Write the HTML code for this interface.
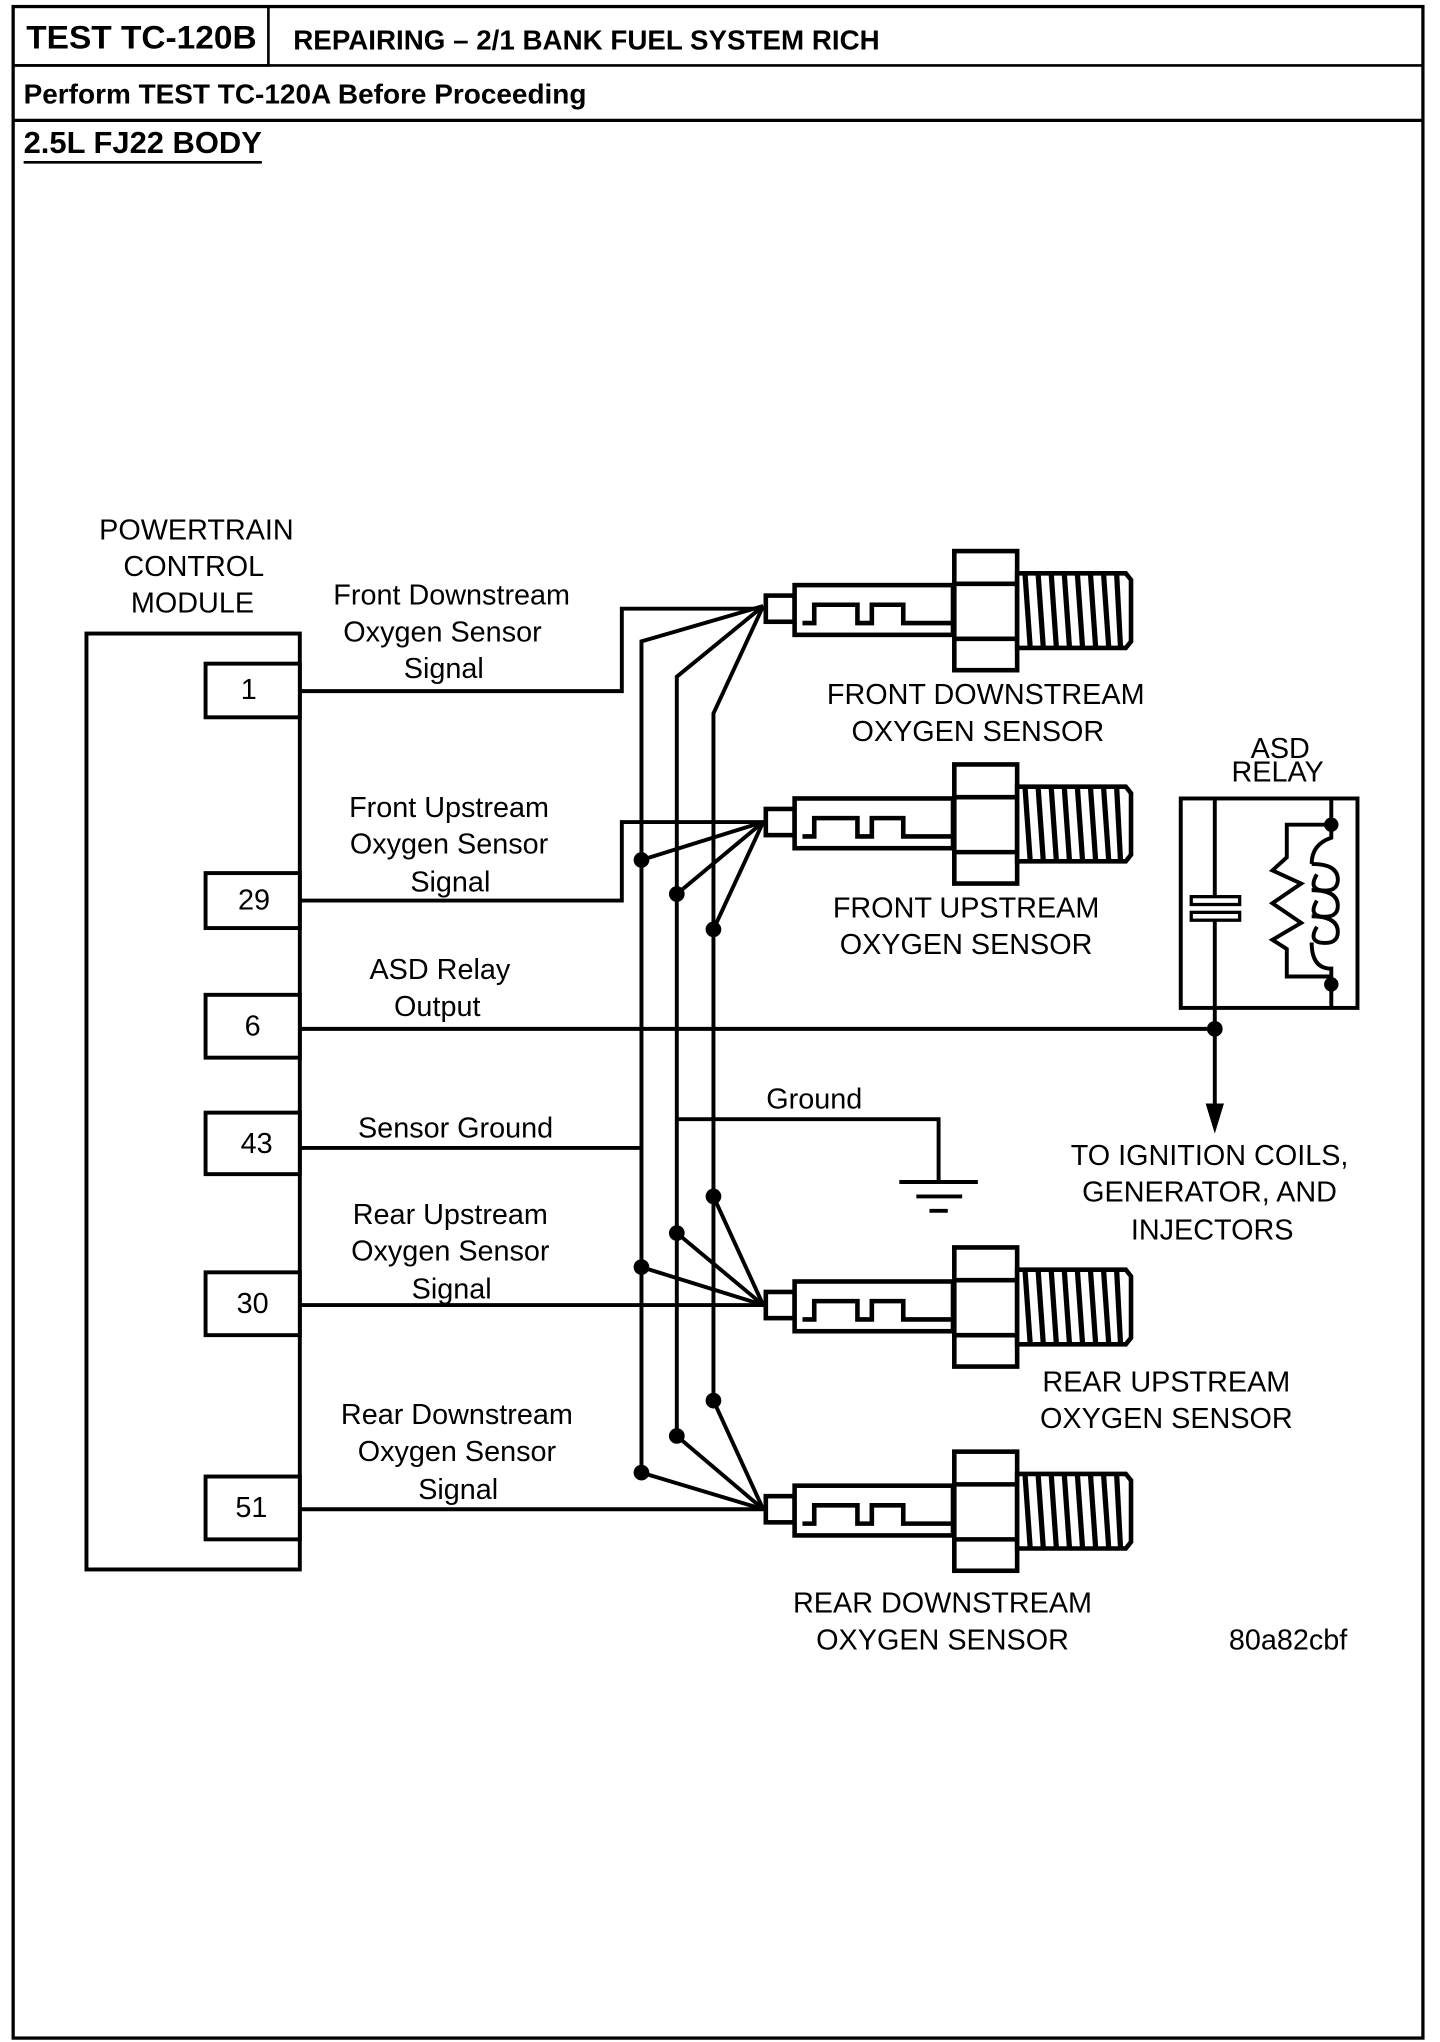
<!DOCTYPE html>
<html><head><meta charset="utf-8"><style>
html,body{margin:0;padding:0;background:#fff;}
svg{display:block;}
text{font-family:"Liberation Sans",Arial,sans-serif;fill:#000;}
.b{font-weight:bold;}
</style></head><body>
<svg width="1440" height="2042" viewBox="0 0 1100 1560" xmlns="http://www.w3.org/2000/svg">
<defs>
<g id="sensor">
  <rect x="585" y="-10" width="22" height="20" fill="#fff" stroke="#000" stroke-width="3.5"/>
  <rect x="607" y="-18" width="121" height="38" fill="#fff" stroke="#000" stroke-width="3.5"/>
  <polyline points="613,11 622,11 622,-3 655,-3 655,11 666,11 666,-3 690,-3 690,11 728,11" fill="none" stroke="#000" stroke-width="3.5"/>
  <rect x="729" y="-44" width="48" height="91" fill="#fff" stroke="#000" stroke-width="3.5"/>
  <line x1="729" y1="-19" x2="777" y2="-19" stroke="#000" stroke-width="3.5"/>
  <line x1="729" y1="23" x2="777" y2="23" stroke="#000" stroke-width="3.5"/>
  <path d="M777,-27 L860,-27 L864,-22 L864,25 L860,30 L777,30 Z" fill="#fff" stroke="#000" stroke-width="3.5"/>
  <g stroke="#000" stroke-width="4">
    <line x1="783" y1="-27" x2="787" y2="30"/><line x1="793" y1="-27" x2="797" y2="30"/>
    <line x1="803" y1="-27" x2="807" y2="30"/><line x1="813" y1="-27" x2="817" y2="30"/>
    <line x1="823" y1="-27" x2="827" y2="30"/><line x1="833" y1="-27" x2="837" y2="30"/>
    <line x1="843" y1="-27" x2="847" y2="30"/><line x1="853" y1="-27" x2="856" y2="30"/>
  </g>
</g>
</defs>
<!-- frame -->
<rect x="10" y="5" width="1077" height="1552" fill="none" stroke="#000" stroke-width="2.5"/>
<line x1="10" y1="50" x2="1087" y2="50" stroke="#000" stroke-width="2"/>
<line x1="10" y1="92" x2="1087" y2="92" stroke="#000" stroke-width="2.5"/>
<rect x="10" y="5" width="195" height="45" fill="none" stroke="#000" stroke-width="2"/>
<text x="20" y="37" class="b" font-size="25" textLength="176" lengthAdjust="spacingAndGlyphs">TEST TC-120B</text>
<text x="224" y="38" class="b" font-size="21" textLength="448" lengthAdjust="spacingAndGlyphs">REPAIRING – 2/1 BANK FUEL SYSTEM RICH</text>
<text x="18" y="79" class="b" font-size="21" textLength="430" lengthAdjust="spacingAndGlyphs">Perform TEST TC-120A Before Proceeding</text>
<text x="18" y="117" class="b" font-size="23" textLength="182" lengthAdjust="spacingAndGlyphs">2.5L FJ22 BODY</text>
<line x1="18" y1="124" x2="200" y2="124" stroke="#000" stroke-width="2"/>

<!-- PCM -->
<text x="150" y="412" font-size="22" text-anchor="middle">POWERTRAIN</text>
<text x="148" y="440" font-size="22" text-anchor="middle">CONTROL</text>
<text x="147" y="468" font-size="22" text-anchor="middle">MODULE</text>
<rect x="66" y="484" width="163" height="715" fill="none" stroke="#000" stroke-width="3"/>
<g fill="#fff" stroke="#000" stroke-width="3">
<rect x="157" y="507" width="72" height="41"/>
<rect x="157" y="667" width="72" height="42"/>
<rect x="157" y="760" width="72" height="48"/>
<rect x="157" y="850" width="72" height="47"/>
<rect x="157" y="972" width="72" height="48"/>
<rect x="157" y="1128" width="72" height="48"/>
</g>
<g font-size="22" text-anchor="middle">
<text x="190" y="534">1</text>
<text x="194" y="695">29</text>
<text x="193" y="791">6</text>
<text x="196" y="881">43</text>
<text x="193" y="1003">30</text>
<text x="192" y="1159">51</text>
</g>

<!-- wire labels -->
<g font-size="22" text-anchor="middle">
<text x="345" y="462">Front Downstream</text>
<text x="338" y="490">Oxygen Sensor</text>
<text x="339" y="518">Signal</text>
<text x="343" y="624">Front Upstream</text>
<text x="343" y="652">Oxygen Sensor</text>
<text x="344" y="681">Signal</text>
<text x="336" y="748">ASD Relay</text>
<text x="334" y="776">Output</text>
<text x="348" y="869">Sensor Ground</text>
<text x="344" y="935">Rear Upstream</text>
<text x="344" y="963">Oxygen Sensor</text>
<text x="345" y="992">Signal</text>
<text x="349" y="1088">Rear Downstream</text>
<text x="349" y="1116">Oxygen Sensor</text>
<text x="350" y="1145">Signal</text>
<text x="622" y="847">Ground</text>
</g>

<!-- wires -->
<g fill="none" stroke="#000" stroke-width="3">
<polyline points="229,528 475,528 475,465 585,465"/>
<polyline points="229,688 475,688 475,628 585,628"/>
<line x1="229" y1="786" x2="928" y2="786"/>
<polyline points="229,877 490,877"/>
<line x1="229" y1="997" x2="585" y2="997"/>
<line x1="229" y1="1153" x2="585" y2="1153"/>
<polyline points="583,463 490,490 490,1125"/>
<polyline points="583,463 517,517 517,1097"/>
<polyline points="583,463 545,545 545,1070"/>
<line x1="490" y1="657" x2="583" y2="628"/>
<line x1="517" y1="683" x2="583" y2="628"/>
<line x1="545" y1="710" x2="583" y2="628"/>
<line x1="490" y1="968" x2="583" y2="997"/>
<line x1="517" y1="942" x2="583" y2="997"/>
<line x1="545" y1="914" x2="583" y2="997"/>
<line x1="490" y1="1125" x2="583" y2="1153"/>
<line x1="517" y1="1097" x2="583" y2="1153"/>
<line x1="545" y1="1070" x2="583" y2="1153"/>
<polyline points="517,855 717,855 717,903"/>
<line x1="687" y1="903" x2="747" y2="903"/>
<line x1="700" y1="914" x2="735" y2="914"/>
<line x1="710" y1="925" x2="724" y2="925"/>
<line x1="928" y1="770" x2="928" y2="845"/>
</g>
<polygon points="921,843 935,843 928,866" fill="#000"/>
<g fill="#000">
<circle cx="490" cy="657" r="6"/><circle cx="517" cy="683" r="6"/><circle cx="545" cy="710" r="6"/>
<circle cx="490" cy="968" r="6"/><circle cx="517" cy="942" r="6"/><circle cx="545" cy="914" r="6"/>
<circle cx="490" cy="1125" r="6"/><circle cx="517" cy="1097" r="6"/><circle cx="545" cy="1070" r="6"/>
<circle cx="928" cy="786" r="6"/>
</g>

<use href="#sensor" transform="translate(0,465)"/>
<use href="#sensor" transform="translate(0,628)"/>
<use href="#sensor" transform="translate(0,997)"/>
<use href="#sensor" transform="translate(0,1153)"/>
<g font-size="22" text-anchor="middle">
<text x="753" y="538">FRONT DOWNSTREAM</text>
<text x="747" y="566">OXYGEN SENSOR</text>
<text x="738" y="701">FRONT UPSTREAM</text>
<text x="738" y="729">OXYGEN SENSOR</text>
<text x="891" y="1063">REAR UPSTREAM</text>
<text x="891" y="1091">OXYGEN SENSOR</text>
<text x="720" y="1232">REAR DOWNSTREAM</text>
<text x="720" y="1260">OXYGEN SENSOR</text>
<text x="984" y="1260">80a82cbf</text>
<text x="978" y="579">ASD</text>
<text x="976" y="597">RELAY</text>
<text x="924" y="890">TO IGNITION COILS,</text>
<text x="924" y="918">GENERATOR, AND</text>
<text x="926" y="947">INJECTORS</text>
</g>

<g fill="none" stroke="#000" stroke-width="3">
<rect x="902" y="610" width="135" height="160"/>
<line x1="928" y1="610" x2="928" y2="685"/>
<line x1="928" y1="702" x2="928" y2="770"/>
<rect x="910" y="685" width="37" height="6" stroke-width="2.5"/>
<rect x="910" y="697" width="37" height="6" stroke-width="2.5"/>
<line x1="1017" y1="610" x2="1017" y2="630"/>
<line x1="1017" y1="752" x2="1017" y2="770"/>
<polyline points="1017,630 983,630 983,655 972,665 994,675 972,690 994,705 972,718 983,725 983,746 1017,746"/>
<path d="M1017,630 L1017,640 Q1002,645 1002,660 M1002,660 Q1022,660 1022,672 Q1022,682 1008,680 Q1000,678 1006,668 M1002,680 Q1022,680 1022,692 Q1022,702 1008,700 Q1000,698 1006,688 M1002,700 Q1022,700 1022,712 Q1022,722 1008,720 Q1000,718 1006,708 M1002,720 Q1002,740 1017,740 L1017,752"/>
</g>
<circle cx="1017" cy="630" r="5.5" fill="#000"/>
<circle cx="1017" cy="752" r="5.5" fill="#000"/>
</svg>
</body></html>
